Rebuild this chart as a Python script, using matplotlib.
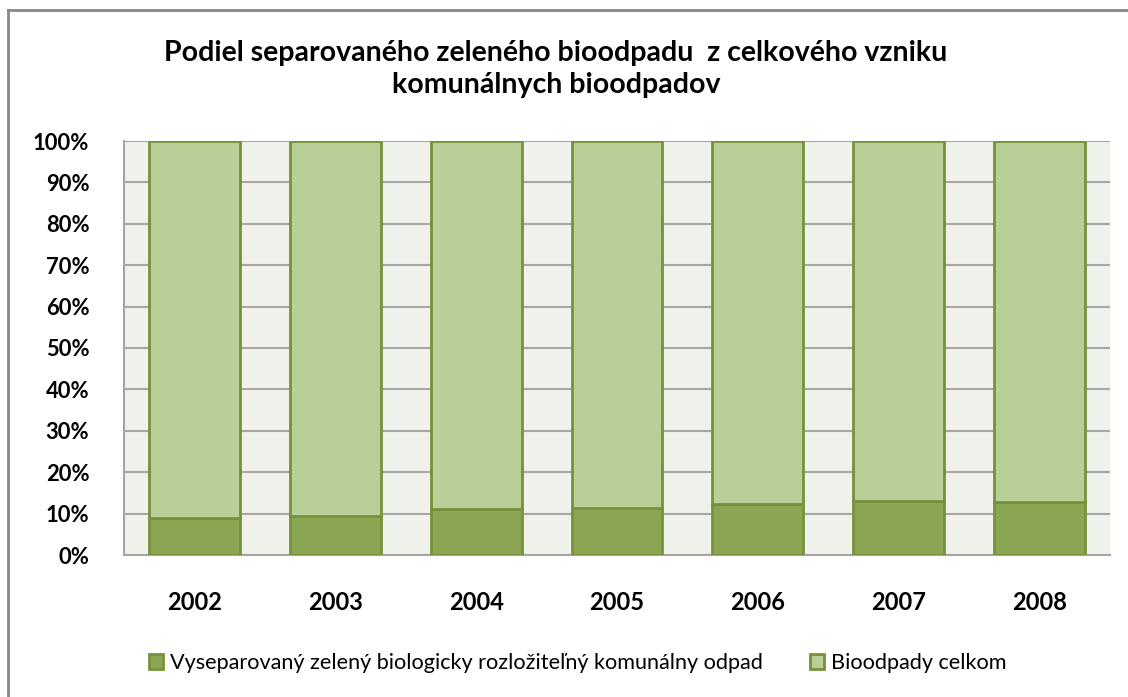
import numpy as np
import matplotlib.pyplot as plt

years = ["2002", "2003", "2004", "2005", "2006", "2007", "2008"]
separated_pct = [8.9, 9.3, 11.1, 11.4, 12.3, 13.0, 12.8]
total_pct = [100 - v for v in separated_pct]

label_sep = "Vyseparovaný zelený biologicky rozložiteľný komunálny odpad"
label_tot = "Bioodpady celkom"
title = "Podiel separovaného zeleného bioodpadu  z celkového vzniku\nkomunálnych bioodpadov"

dark = "#8BA552"
light = "#BACE97"
edge = "#76923C"

plt.rcParams['font.family'] = ['Lato', 'DejaVu Sans']

fig = plt.figure(figsize=(11.28, 6.97), dpi=100)
W, H = 1128, 697
ax = fig.add_axes([124 / W, 1 - 555 / H, 986 / W, 414 / H])

# outer frame (only left and top edges are inside the picture)
fig.add_artist(plt.Line2D([8 / W, 8 / W], [0, 1 - 10 / H], transform=fig.transFigure,
                          color="#888888", linewidth=2.0))
fig.add_artist(plt.Line2D([8 / W, 1], [1 - 10 / H, 1 - 10 / H], transform=fig.transFigure,
                          color="#888888", linewidth=2.0))

x = np.arange(len(years))
w = 0.645
ax.bar(x, separated_pct, w, color=dark, edgecolor=edge, linewidth=2, label=label_sep, zorder=3)
ax.bar(x, total_pct, w, bottom=separated_pct, color=light, edgecolor=edge, linewidth=2,
       label=label_tot, zorder=3)

ax.set_facecolor("#EFF2EA")
ax.set_xlim(-0.5, len(years) - 0.5)
ax.set_ylim(0, 100)
ax.set_yticks(np.arange(0, 101, 10))
ax.set_yticklabels([f"{v}%" for v in range(0, 101, 10)])
ax.set_xticks(x)
ax.set_xticklabels(years)
ax.yaxis.grid(True, color="#A6A6A6", linewidth=1.5, zorder=0)
ax.tick_params(length=0)
ax.tick_params(axis="x", pad=26, labelsize=17)
ax.tick_params(axis="y", pad=25, labelsize=15.8)
for lab in ax.get_xticklabels() + ax.get_yticklabels():
    lab.set_fontweight("bold")
for s in ax.spines.values():
    s.set_color("#A6A6A6")
    s.set_linewidth(1.5)
ax.spines["top"].set_visible(False)
ax.spines["right"].set_visible(False)

fig.text(0.493, 1 - 69 / H, title, ha="center", va="center", fontsize=20.5,
         fontweight="bold", linespacing=1.3)

fig.legend(loc="center", bbox_to_anchor=(0.512, 1 - 663 / H), ncol=2, frameon=False,
           fontsize=15.6, handlelength=0.65, handleheight=0.7, handletextpad=0.3,
           columnspacing=2.2)

fig.savefig("out.png", dpi=100)
